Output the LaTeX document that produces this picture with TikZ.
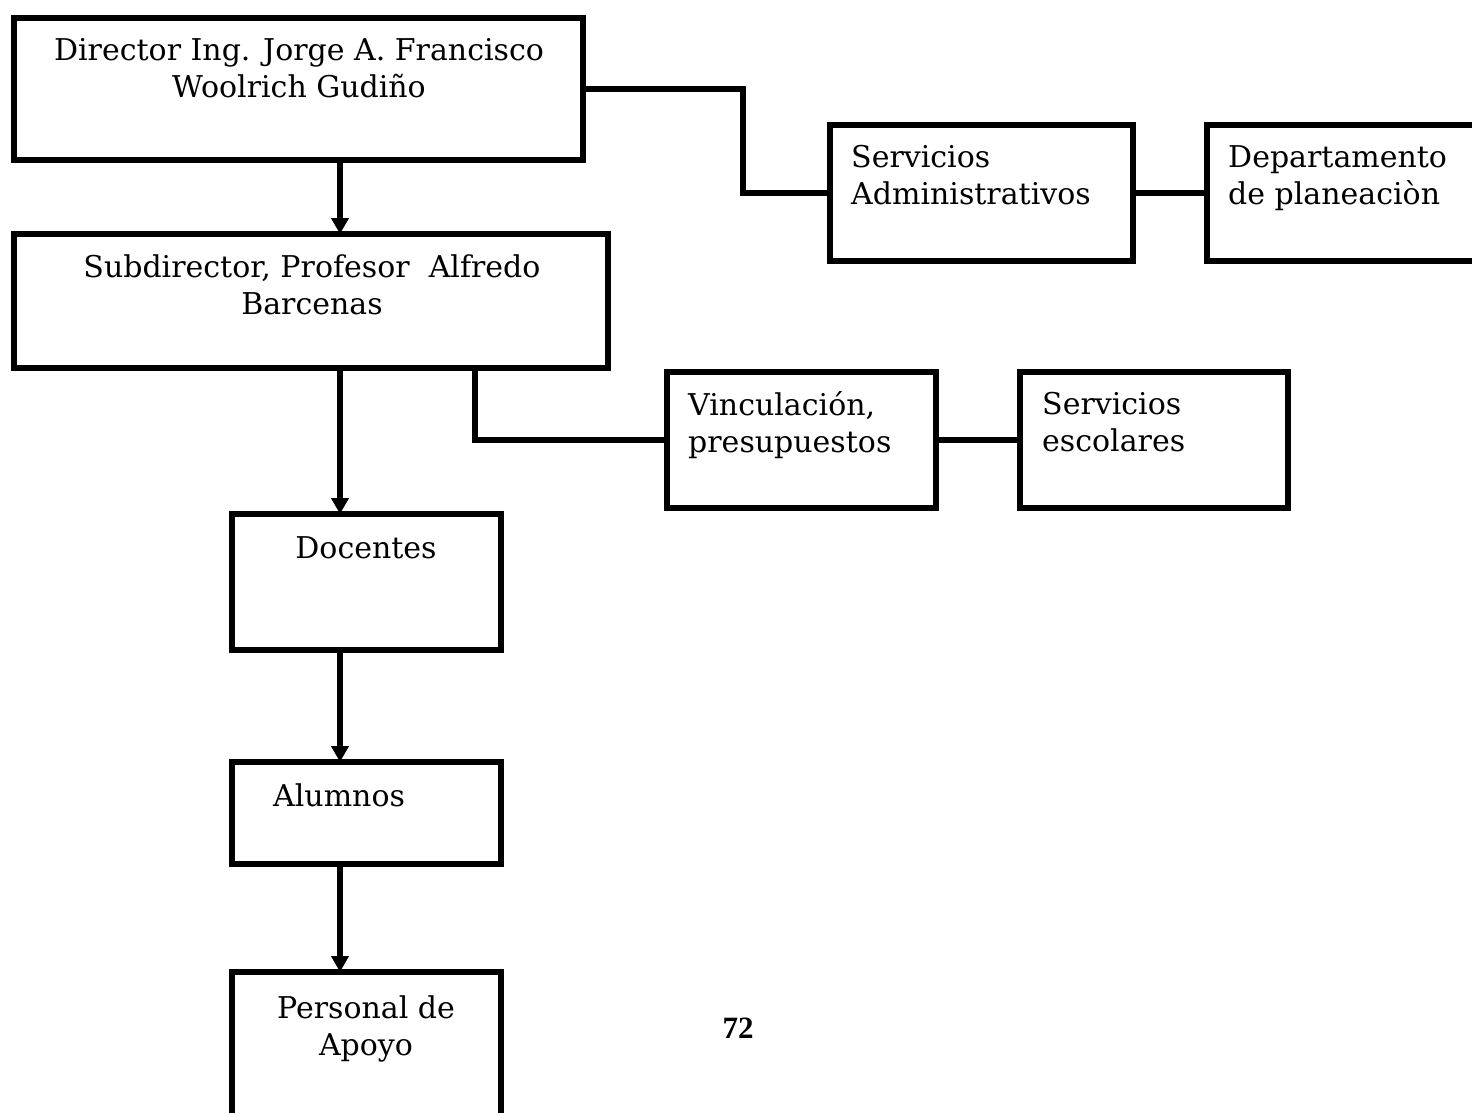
\documentclass[tikz,border=0pt]{standalone}
\usepackage{fontspec}
\setmainfont{DejaVu Serif}
\newfontfamily\numfont{Liberation Serif}
\usetikzlibrary{arrows.meta}
\tikzset{
  box/.style={draw, line width=5.5pt, inner sep=0pt, outer sep=0pt, anchor=north west},
  txt/.style={font=\fontsize{30}{37}\selectfont, inner sep=0pt},
  conn/.style={line width=5.5pt},
  arr/.style={line width=5.5pt, -{Triangle[width=17pt,length=16pt]}}
}
\begin{document}
\begin{tikzpicture}[x=1pt,y=-1pt]
\useasboundingbox (0,0) rectangle (1472,1112);
\clip (0,0) rectangle (1472,1112);
% boxes
\node[box, minimum width=569pt, minimum height=142pt] (dir) at (14,18) {};
\node[box, minimum width=594pt, minimum height=134pt] (sub) at (14,234) {};
\node[box, minimum width=303pt, minimum height=136pt] (sa) at (830,125) {};
\node[box, minimum width=300pt, minimum height=136pt] (dp) at (1207,125) {};
\node[box, minimum width=269pt, minimum height=136pt] (vin) at (667,372) {};
\node[box, minimum width=268pt, minimum height=136pt] (se) at (1020,372) {};
\node[box, minimum width=269pt, minimum height=136pt] (doc) at (232,514) {};
\node[box, minimum width=269pt, minimum height=102pt] (alu) at (232,762) {};
\node[box, minimum width=269pt, minimum height=200pt] (per) at (232,972) {};
% texts
\node[txt, align=center, anchor=north] (tdir) at (299,38) {Director Ing. Jorge A. Francisco\\Woolrich Gudiño};
\node[txt, align=center, anchor=north] (tsub) at (312,254) {Subdirector, Profesor\ \ Alfredo\\Barcenas};
\node[txt, align=left, anchor=north west] (tsa) at (851,145) {Servicios\\Administrativos};
\node[txt, align=left, anchor=north west] (tdp) at (1228,145) {Departamento\\de planeaciòn};
\node[txt, align=left, anchor=north west] (tvin) at (688,391) {Vinculación,\\presupuestos};
\node[txt, align=left, anchor=north west] (tse) at (1042,392) {Servicios\\escolares};
\node[txt, anchor=north] (tdoc) at (366,536) {Docentes};
\node[txt, anchor=north west] (talu) at (273,783) {Alumnos};
\node[txt, align=center, anchor=north] (tper) at (366,995) {Personal de\\Apoyo};
\node[font=\numfont\bfseries\fontsize{31}{36}\selectfont, inner sep=0pt] (pg) at (738,1028) {72};
% connectors
\coordinate (ax) at (340,0);
\coordinate (bx) at (475,0);
\draw[conn] (dir.east) -- ++(160,0) |- (sa.west);
\draw[conn] (sa.east) -- (dp.west);
\draw[conn] (sub.south -| bx) |- (vin.west);
\draw[conn] (vin.east) -- (se.west);
\draw[arr] (dir.south -| ax) -- (sub.north -| ax);
\draw[arr] (sub.south -| ax) -- (doc.north -| ax);
\draw[arr] (doc.south -| ax) -- (alu.north -| ax);
\draw[arr] (alu.south -| ax) -- (per.north -| ax);
\end{tikzpicture}
\end{document}
